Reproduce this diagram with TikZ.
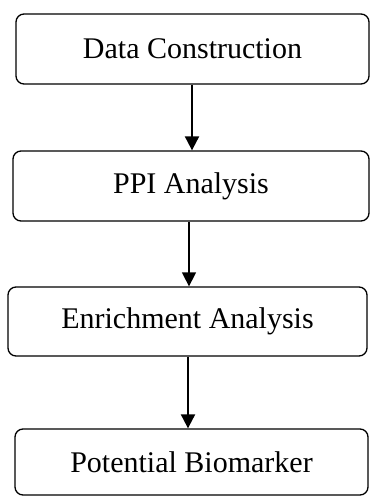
\documentclass[tikz,border=0pt]{standalone}
\usepackage{fontspec}
\setmainfont{Liberation Serif}
\usetikzlibrary{arrows.meta}
\begin{document}
\begin{tikzpicture}[x=1pt,y=-1pt,
  stepbox/.style={draw=black,line width=1.3pt,rounded corners=8pt,inner sep=0pt,
    font=\fontsize{30}{36}\selectfont},
  arr/.style={line width=2pt,-{Triangle[width=14pt,length=14pt]}},
  thinarr/.style={line width=1.5pt,-{Triangle[width=14pt,length=14pt]}}]
\useasboundingbox (0,0) rectangle (370,496);
\node[stepbox,minimum width=353pt,minimum height=70pt] (b1) at (192.5,49) {Data Construction};
\node[stepbox,minimum width=356pt,minimum height=70pt] (b2) at (191,186) {PPI Analysis};
\node[stepbox,minimum width=359pt,minimum height=69pt] (b3) at (187.5,321.5) {Enrichment Analysis};
\node[stepbox,minimum width=353pt,minimum height=66pt] (b4) at (191.5,462) {Potential Biomarker};
\coordinate (x1) at (192,0);
\coordinate (x2) at (189,0);
\coordinate (x3) at (188,0);
\draw[arr] (x1 |- b1.south) -- (x1 |- b2.north);
\draw[thinarr] (x2 |- b2.south) -- (x2 |- b3.north);
\draw[arr] (x3 |- b3.south) -- (x3 |- b4.north);
\end{tikzpicture}
\end{document}
